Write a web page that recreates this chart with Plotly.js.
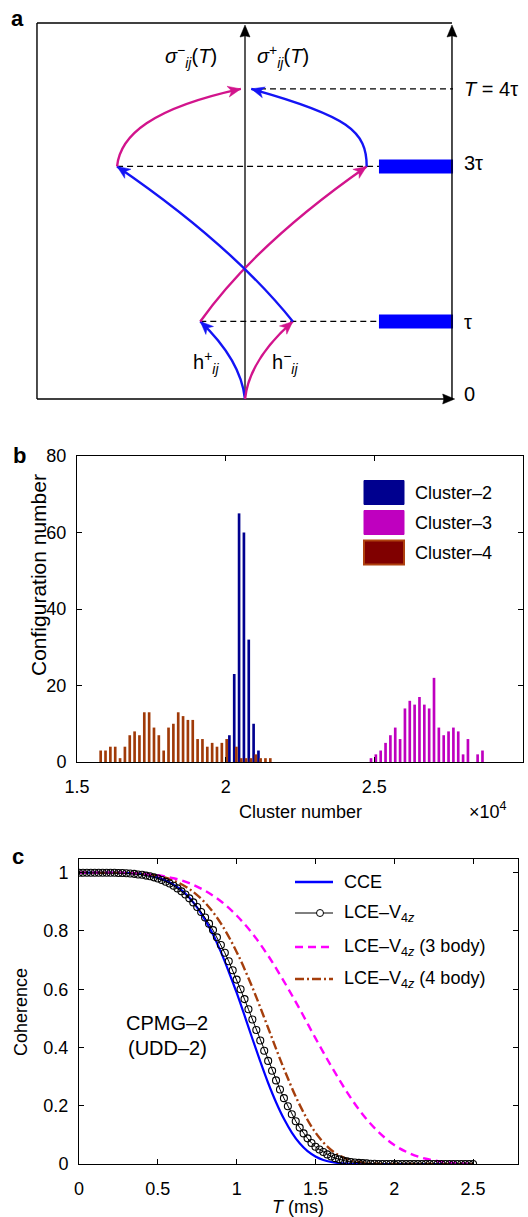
<!DOCTYPE html>
<html>
<head>
<meta charset="utf-8">
<script src="https://cdn.plot.ly/plotly-3.0.1.min.js"></script>
<style>
html,body{margin:0;padding:0;background:#fff;}
#chart{width:528px;height:1217px;}
</style>
</head>
<body>
<div id="chart"></div>
<script>
// ================= DATA =================
// Panel a: pulse-sequence levels (in units of tau)
const levelValues = [0, 1, 3, 4];
const levelLabels = ['0', 'τ', '3τ', '<i>T</i> = 4τ'];
const pulseLevels = [1, 3];

// Panel b: histogram of cluster numbers (x in units of 10^4)
const clusterBinStart = 1.576;
const clusterBinWidth = 0.0163;
const cluster2Counts = [
  0,0,0,0,0,0,0,0,0,0,
  0,0,0,0,0,0,0,0,0,0,
  0,0,0,0,0,0,0,7,23,65,
  60,32,10,3,0,0,0,0,0,0,
  0,0,0,0,0,0,0,0,0,0,
  0,0,0,0,0,0,0,0,0,0,
  0,0,0,0,0,0,0,0,0,0,
  0,0,0,0,0,0,0,0,0,0];
const cluster3Counts = [
  0,0,0,0,0,0,0,0,0,0,
  0,0,0,0,0,0,0,0,0,0,
  0,0,0,0,0,0,0,0,0,0,
  0,0,0,0,0,0,0,0,0,0,
  0,0,0,0,0,0,0,0,0,0,
  0,0,0,0,0,0,1,2,3,5,
  7,9,6,14,16,15,17,15,14,22,
  9,7,8,9,8,2,6,0,2,3];
const cluster4Counts = [
  3,3,4,4,1,4,7,8,7,13,
  13,9,7,3,9,10,13,12,11,11,
  6,6,4,5,4,5,6,0,4,1,
  1,1,2,1,1,1,0,0,0,0,
  0,0,0,0,0,0,0,0,0,0,
  0,0,0,0,0,0,0,0,0,0,
  0,0,0,0,0,0,0,0,0,0,
  0,0,0,0,0,0,0,0,0,0];
const clusterNames = ['Cluster–2', 'Cluster–3', 'Cluster–4'];

// Panel c: coherence vs T (ms)
const timeFineStep = 0.025;   // LCE-V4z sampled every 0.025 ms
const timeMidStep = 0.05;     // CCE
const timeCoarseStep = 0.1;   // 3 body / 4 body
const lceCoherence = [
  1,1,1,1,1,1,1,1,1,1,
  0.999,0.999,0.998,0.997,0.996,0.994,0.993,0.990,0.988,0.984,
  0.980,0.975,0.969,0.963,0.955,0.946,0.936,0.925,0.912,0.898,
  0.882,0.865,0.846,0.825,0.803,0.778,0.752,0.725,0.696,0.665,
  0.633,0.600,0.566,0.531,0.496,0.460,0.424,0.389,0.354,0.320,
  0.287,0.256,0.226,0.198,0.171,0.147,0.125,0.105,0.088,0.072,
  0.059,0.050,0.041,0.033,0.026,0.020,0.016,0.012,0.009,0.007,
  0.005,0.004,0.003,0.002,0.001,0.001,0,0,0,0,
  0,0,0,0,0,0,0,0,0,0,
  0,0,0,0,0,0,0,0,0,0,
  0];
const cceCoherence = [
  1,1,1,1,1,1,0.999,
  0.998,0.995,0.990,0.983,0.973,0.959,0.940,0.914,0.880,0.838,
  0.788,0.728,0.660,0.588,0.510,0.430,0.352,0.278,0.212,0.155,
  0.108,0.071,0.044,0.026,0.014,0.007,0.003,0.001,
  0,0,0,0,0,0,0,0,0,0,0,0,0,0,0,0];
const body3Coherence = [1,1,1,0.999,0.996,0.991,0.981,0.964,0.938,0.902,0.853,0.791,0.715,0.627,0.532,0.432,0.336,0.247,0.170,0.110,0.065,0.036,0.018,0.008,0.003,0.001];
const body4Coherence = [1,1,1,1,0.996,0.989,0.973,0.944,0.897,0.826,0.728,0.606,0.467,0.327,0.203,0.108,0.048,0.017,0.005,0.001,0,0,0,0,0,0];
const seriesNamesC = ['CCE', 'LCE–V<sub>4<i>z</i></sub>', 'LCE–V<sub>4<i>z</i></sub> (3 body)', 'LCE–V<sub>4<i>z</i></sub> (4 body)'];

// ================= LAYOUT HELPERS =================
const W = 528, H = 1217;
const FONT = 'Liberation Sans, Arial, Helvetica, sans-serif';
const fx = px => px / W;
const fy = py => 1 - py / H;
const grid = (n, step) => Array.from({length: n}, (_, i) => +(i * step).toFixed(4));

const BLUE_A = '#1414f5';
const MAG_A = 'rgb(210,20,140)';
const C2 = '#00008F', C3 = '#BF00BF', C4 = '#800000', C4bar = 'rgb(160,58,8)';

// panel a geometry (diagram units: x in [-1,1] across the box, y in tau)
const aPx = {x0: 27, x1: 463, y0: 409, y1: 13};
const aXr = [-1.048, 1.048];
const aYr = [-0.129, 4.979];
const sxA = (aPx.x1 - aPx.x0) / (aXr[1] - aXr[0]);
const syA = (aPx.y0 - aPx.y1) / (aYr[1] - aYr[0]);

const traces = [];
const shapes = [];
const annotations = [];

// arrowhead polygon (pixel-sized, placed in diagram units)
function arrowHead(tip, dirX, dirY, color, L, Wd, notch) {
  // dirX, dirY: travel direction in screen pixels (y down)
  const len = Math.hypot(dirX, dirY), ux = dirX / len, uy = dirY / len;
  const nx = -uy, ny = ux;
  const pts = [[0, 0], [-L * ux + Wd / 2 * nx, -L * uy + Wd / 2 * ny], [-notch * L * ux, -notch * L * uy], [-L * ux - Wd / 2 * nx, -L * uy - Wd / 2 * ny]];
  const d = pts.map((p, i) => (i ? 'L' : 'M') + (tip[0] + p[0] / sxA).toFixed(5) + ',' + (tip[1] - p[1] / syA).toFixed(5)).join(' ') + ' Z';
  shapes.push({type: 'path', xref: 'x', yref: 'y', path: d, fillcolor: color, line: {color: color, width: 0.5}});
}

// ----- Panel a -----
const boxTop = 4.85, axisTop = 4.824, rightX = 0.995;
const dashSpans = {1: [-0.215, 0.644], 3: [-0.615, 0.644], 4: [0.072, 1.0]};
levelValues.forEach(v => {
  if (!dashSpans[v]) return;
  traces.push({x: dashSpans[v], y: [v, v], xaxis: 'x', yaxis: 'y', mode: 'lines',
    line: {color: 'black', width: 1.2, dash: '6px,4px'}, hoverinfo: 'skip', showlegend: false});
});
pulseLevels.forEach(v => {
  shapes.push({type: 'rect', xref: 'x', yref: 'y', x0: 0.644, x1: 1.0, y0: v - 0.09, y1: v + 0.09,
    fillcolor: '#0000FF', line: {width: 0}});
});
// box
shapes.push({type: 'line', xref: 'x', yref: 'y', x0: -1, x1: -1, y0: 0, y1: boxTop, line: {color: 'black', width: 1.4}});
shapes.push({type: 'line', xref: 'x', yref: 'y', x0: -1, x1: rightX, y0: boxTop, y1: boxTop, line: {color: 'black', width: 1.4}});
// axes with arrows
shapes.push({type: 'line', xref: 'x', yref: 'y', x0: 0, x1: 0, y0: 0, y1: axisTop - 0.1, line: {color: 'black', width: 1.3}});
shapes.push({type: 'line', xref: 'x', yref: 'y', x0: rightX, x1: rightX, y0: 0, y1: axisTop - 0.1, line: {color: 'black', width: 1.4}});
shapes.push({type: 'line', xref: 'x', yref: 'y', x0: -1, x1: 1.0, y0: 0, y1: 0, line: {color: 'black', width: 1.4}});
arrowHead([0, axisTop], 0, -1, 'black', 12, 10, 0.9);
arrowHead([rightX, axisTop], 0, -1, 'black', 12, 10, 0.9);
arrowHead([1.008, 0], 1, 0, 'black', 12, 10, 0.9);

const curves = [
  {color: BLUE_A, from: [0, 0], c1: [-0.02, 0.5], to: [-0.215, 1]},
  {color: MAG_A, from: [0, 0], c1: [0.02, 0.5], to: [0.23, 1]},
  {color: MAG_A, from: [-0.215, 1], c1: [0.05, 2.0], to: [0.585, 3]},
  {color: BLUE_A, from: [0.23, 1], c1: [-0.07, 2.0], to: [-0.615, 3]},
  {color: MAG_A, from: [-0.615, 3], c1: [-0.6, 3.4], c2: [-0.45, 3.75], to: [-0.02, 4]},
  {color: BLUE_A, from: [0.585, 3], c1: [0.585, 3.45], c2: [0.5, 3.65], to: [0.03, 4]}
];
curves.forEach(c => {
  let path = `M${c.from[0]},${c.from[1]} `;
  let last;
  if (c.c2) { path += `C${c.c1[0]},${c.c1[1]} ${c.c2[0]},${c.c2[1]} ${c.to[0]},${c.to[1]}`; last = c.c2; }
  else { path += `Q${c.c1[0]},${c.c1[1]} ${c.to[0]},${c.to[1]}`; last = c.c1; }
  shapes.push({type: 'path', xref: 'x', yref: 'y', path, line: {color: c.color, width: 2.4}});
  const dx = (c.to[0] - last[0]) * sxA, dy = -(c.to[1] - last[1]) * syA;
  arrowHead(c.to, dx, dy, c.color, 13, 11, 0.72);
});

const txt = (px, py, text, opts = {}) => Object.assign({
  xref: 'paper', yref: 'paper', x: fx(px), y: fy(py), text, showarrow: false,
  xanchor: 'center', yanchor: 'middle', font: {family: FONT, size: 18, color: 'black'}
}, opts);
const f20 = {font: {family: FONT, size: 20, color: 'black'}};

// level labels on the right axis
const levelLabelPos = {0: 394, 1: 322, 3: 163, 4: 89};
levelValues.forEach((v, i) => annotations.push(txt(462, levelLabelPos[v], levelLabels[i], Object.assign({xanchor: 'left'}, f20))));
annotations.push(txt(191, 57, '<i>σ</i><sup>−</sup><sub><i>ij</i></sub>(<i>T</i>)', f20));
annotations.push(txt(283, 57, '<i>σ</i><sup>+</sup><sub><i>ij</i></sub>(<i>T</i>)', f20));
annotations.push(txt(206, 362, 'h<sup>+</sup><sub><i>ij</i></sub>', f20));
annotations.push(txt(285, 362, 'h<sup>−</sup><sub><i>ij</i></sub>', f20));
annotations.push(txt(17, 18, '<b>a</b>', {font: {family: FONT, size: 22, color: 'black'}}));

// ----- Panel b -----
const binCenters = cluster2Counts.map((_, k) => +(clusterBinStart + k * clusterBinWidth).toFixed(5));
const barW = 0.55 * clusterBinWidth;
[[cluster2Counts, C2, -0.222], [cluster3Counts, C3, 0], [cluster4Counts, C4bar, 0.222]].forEach(([vals, col, sh], i) => {
  traces.push({type: 'bar', x: binCenters, y: vals, xaxis: 'x2', yaxis: 'y2', name: clusterNames[i],
    width: barW, offset: sh * clusterBinWidth - barW / 2,
    marker: {color: col, line: {width: 0}}, showlegend: false, hoverinfo: 'skip'});
});
const legBRows = [492.5, 522.5, 552.5];
const legBFill = [C2, C3, C4];
const legBLine = [C2, C3, 'rgb(175,65,15)'];
legBRows.forEach((py, i) => {
  shapes.push({type: 'rect', xref: 'paper', yref: 'paper', x0: fx(364), x1: fx(404), y0: fy(py + 12), y1: fy(py - 12),
    fillcolor: legBFill[i], line: {color: legBLine[i], width: i === 2 ? 2 : 1}});
  annotations.push(txt(413, py, clusterNames[i], {xanchor: 'left'}));
});
annotations.push(txt(300, 812, 'Cluster number'));
annotations.push(txt(488, 810, '×10<sup>4</sup>'));
annotations.push(txt(38, 575, 'Configuration number', {textangle: -90, font: {family: FONT, size: 21, color: 'black'}}));
annotations.push(txt(19, 455, '<b>b</b>', {font: {family: FONT, size: 22, color: 'black'}}));

// ----- Panel c -----
const tFine = grid(lceCoherence.length, timeFineStep);
const tMid = grid(cceCoherence.length, timeMidStep);
const tCoarse = grid(body3Coherence.length, timeCoarseStep);
const BROWN = 'rgb(165,62,12)';
traces.push({x: tMid, y: cceCoherence, xaxis: 'x3', yaxis: 'y3', mode: 'lines', name: 'CCE',
  line: {color: '#0000FF', width: 2.2, shape: 'spline'}, showlegend: false, hoverinfo: 'skip'});
traces.push({x: tCoarse, y: body4Coherence, xaxis: 'x3', yaxis: 'y3', mode: 'lines', name: '4 body',
  line: {color: BROWN, width: 2.4, dash: '9px,3px,2px,3px', shape: 'spline'}, showlegend: false, hoverinfo: 'skip'});
traces.push({x: tCoarse, y: body3Coherence, xaxis: 'x3', yaxis: 'y3', mode: 'lines', name: '3 body',
  line: {color: '#FF00FF', width: 2.4, dash: '8px,5px', shape: 'spline'}, showlegend: false, hoverinfo: 'skip'});
traces.push({x: tFine, y: lceCoherence, xaxis: 'x3', yaxis: 'y3', mode: 'lines+markers', name: 'LCE',
  line: {color: 'black', width: 1}, marker: {symbol: 'circle-open', size: 7, color: 'black', line: {width: 1.1}},
  showlegend: false, hoverinfo: 'skip'});

const legCRows = [882, 913, 947, 979];
const legCStyles = [
  {color: '#0000FF', width: 2.5},
  {color: 'black', width: 1},
  {color: '#FF00FF', width: 2.5, dash: '8px,5px'},
  {color: BROWN, width: 2.4, dash: '9px,3px,2px,3px'}
];
legCRows.forEach((py, i) => {
  shapes.push({type: 'line', xref: 'paper', yref: 'paper', x0: fx(295), x1: fx(333), y0: fy(py), y1: fy(py), line: legCStyles[i]});
  annotations.push(txt(342, py, seriesNamesC[i], {xanchor: 'left'}));
});
shapes.push({type: 'circle', xref: 'paper', yref: 'paper', x0: fx(316.5), x1: fx(323.5), y0: fy(916.5), y1: fy(909.5),
  fillcolor: 'white', line: {color: 'black', width: 1}});
annotations.push(txt(167, 1023, 'CPMG–2', f20));
annotations.push(txt(167, 1048, '(UDD–2)', f20));
annotations.push(txt(298, 1207, '<i>T</i> (ms)'));
annotations.push(txt(21, 1012, 'Coherence', {textangle: -90}));
annotations.push(txt(18, 856, '<b>c</b>', {font: {family: FONT, size: 22, color: 'black'}}));

// ================= AXES =================
const baseAxis = {
  showline: true, linecolor: 'black', linewidth: 1, mirror: 'ticks', ticks: 'inside', ticklen: 5,
  tickwidth: 1, tickcolor: 'black', showgrid: false, zeroline: false, fixedrange: true,
  tickfont: {family: FONT, size: 18, color: 'black'}
};
const layout = {
  width: W, height: H, margin: {l: 0, r: 0, t: 0, b: 0},
  paper_bgcolor: 'white', plot_bgcolor: 'rgba(0,0,0,0)', showlegend: false, barmode: 'overlay',
  font: {family: FONT, size: 18, color: 'black'},
  xaxis: {domain: [fx(aPx.x0), fx(aPx.x1)], range: aXr, visible: false, anchor: 'y', fixedrange: true},
  yaxis: {domain: [fy(aPx.y0), fy(aPx.y1)], range: aYr, visible: false, anchor: 'x', fixedrange: true},
  xaxis2: Object.assign({}, baseAxis, {domain: [fx(77), fx(523)], range: [1.5, 3], tickvals: [1.5, 2, 2.5, 3], anchor: 'y2', ticklabelstandoff: 8}),
  yaxis2: Object.assign({}, baseAxis, {domain: [fy(762), fy(456)], range: [0, 80], tickvals: [0, 20, 40, 60, 80], anchor: 'x2', ticklabelstandoff: 6}),
  xaxis3: Object.assign({}, baseAxis, {domain: [fx(79), fx(518)], range: [0, 2.785], tickvals: [0, 0.5, 1, 1.5, 2, 2.5], anchor: 'y3', ticklabelstandoff: 8}),
  yaxis3: Object.assign({}, baseAxis, {domain: [fy(1164), fy(859)], range: [0, 1.047], tickvals: [0, 0.2, 0.4, 0.6, 0.8, 1], anchor: 'x3', ticklabelstandoff: 6}),
  shapes, annotations
};
Plotly.newPlot('chart', traces, layout, {staticPlot: true, displayModeBar: false});
</script>
</body>
</html>
